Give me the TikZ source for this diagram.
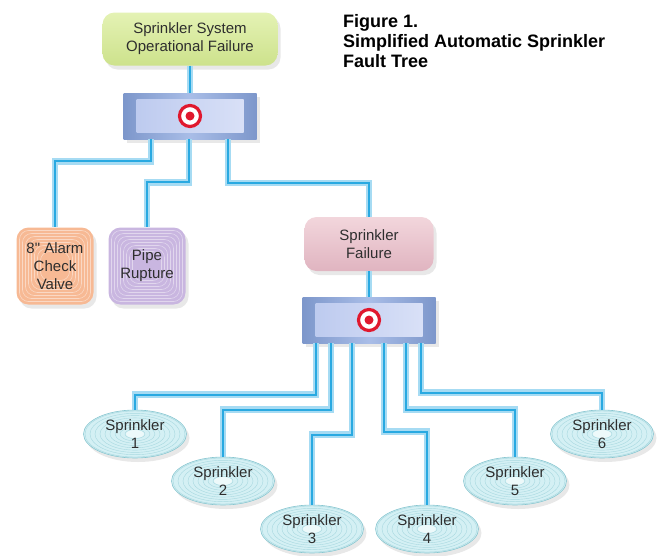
\documentclass[tikz,border=0pt]{standalone}
\usepackage{fontspec}
\setmainfont{Liberation Sans}[Ligatures=TeXOff]
\usetikzlibrary{shapes.geometric,shadows}

\definecolor{wireband}{HTML}{A6DBF3}
\definecolor{wirecore}{HTML}{29A9E1}
\definecolor{textgray}{HTML}{2E2E2E}
\definecolor{topfillA}{HTML}{E4F2B4}
\definecolor{topfillB}{HTML}{CDE28C}
\definecolor{failfillA}{HTML}{F2D6DC}
\definecolor{failfillB}{HTML}{E0B4C0}
\definecolor{alarmfill}{HTML}{F7B994}
\definecolor{pipefill}{HTML}{C9B6E0}
\definecolor{sprkfill}{HTML}{D4F0F4}
\definecolor{sprkring}{HTML}{A8D8E0}
\definecolor{sprkedge}{HTML}{88C6D0}
\definecolor{gateedge}{HTML}{7D97CB}
\definecolor{gatemid}{HTML}{A9BDE7}
\definecolor{innerL}{HTML}{BAC8EE}
\definecolor{innerR}{HTML}{DCE3F8}
\definecolor{targetred}{HTML}{E0182E}

\tikzset{
  wire/.style={draw=wireband, line width=6.5pt, postaction={draw=wirecore, line width=1.8pt}},
  softshadow/.style={drop shadow={shadow xshift=3pt, shadow yshift=-4pt, opacity=0.18}},
  txt/.style={text=textgray, align=center, inner sep=0pt, font=\fontsize{15}{18}\selectfont},
  topbox/.style={txt, rounded corners=12pt, minimum width=175pt, minimum height=53pt,
    top color=topfillA, bottom color=topfillB, softshadow},
  midbox/.style={txt, rounded corners=12pt, minimum width=129pt, minimum height=54pt,
    top color=failfillA, bottom color=failfillB, softshadow},
  ringbox/.style={txt, rounded corners=12pt, minimum width=77pt, minimum height=77pt,
    fill=#1, softshadow,
    path picture={
      \foreach \k in {1,...,8}
        \draw[white, opacity=0.45, line width=0.6pt, rounded corners=9pt]
          ([shift={(\k*3pt,-\k*3pt)}]path picture bounding box.north west) rectangle
          ([shift={(-\k*3pt,\k*3pt)}]path picture bounding box.south east);
    }},
  sprk/.style={txt, ellipse, minimum width=103pt, minimum height=48pt,
    fill=sprkfill, draw=sprkedge, line width=0.6pt, softshadow,
    path picture={
      \foreach \k in {2,...,10}
        \draw[sprkring, line width=0.4pt] (path picture bounding box.center)
          ellipse ({\k*5pt} and {\k*2.3pt});
      \fill[white, opacity=0.6] (path picture bounding box.center) ellipse (9pt and 4pt);
    }},
  gatebox/.style={inner sep=0pt, minimum width=133pt, minimum height=46pt,
    left color=gateedge, right color=gateedge, middle color=gatemid, softshadow,
    path picture={
      \shade[left color=innerL, right color=innerR]
        ([shift={(13pt,-6pt)}]path picture bounding box.north west) rectangle
        ([shift={(-13pt,7pt)}]path picture bounding box.south east);
      \draw[targetred, line width=3.2pt, fill=white] (path picture bounding box.center) circle (10.5pt);
      \fill[targetred] (path picture bounding box.center) circle (4.5pt);
    }}
}

\begin{document}
\begin{tikzpicture}[x=1pt, y=-1pt]
\useasboundingbox (0,0) rectangle (663,555);

\node[topbox] (top) at (190,39) {Sprinkler System\\Operational Failure};
\node[gatebox] (gateA) at (190,116) {};
\node[ringbox=alarmfill] (alarm) at (55,266) {8" Alarm\\Check\\Valve};
\node[ringbox=pipefill] (pipe) at (147,266) {Pipe\\Rupture};
\node[midbox] (sfail) at (369,244) {Sprinkler\\Failure};
\node[gatebox] (gateB) at (369,320) {};

\foreach \n/\x/\y in {1/135/434, 2/223/481, 3/312/529, 4/427/529, 5/515/481, 6/602/434}
  \node[sprk] (s\n) at (\x,\y) {Sprinkler\\\n};

\node[anchor=north west, align=left, inner sep=0pt, font=\bfseries\fontsize{18}{20}\selectfont]
  (title) at (343,14) {Figure 1.\\Simplified Automatic Sprinkler\\Fault Tree};

% upper gate
\draw[wire] (top.south) -- (gateA.north);
\draw[wire] ([xshift=-39pt]gateA.south) |- ([yshift=66pt]alarm.north) -- (alarm.north);
\draw[wire] ([xshift=-1pt]gateA.south) |- ([yshift=45pt]pipe.north) -- (pipe.north);
\draw[wire] ([xshift=38pt]gateA.south) |- ([yshift=34pt]sfail.north) -- (sfail.north);

% lower gate
\draw[wire] (sfail.south) -- (gateB.north);
\draw[wire] ([xshift=-53pt]gateB.south) |- ([yshift=15pt]s1.north) -- (s1.north);
\draw[wire] ([xshift=-38pt]gateB.south) |- ([yshift=47pt]s2.north) -- (s2.north);
\draw[wire] ([xshift=-17pt]gateB.south) |- ([yshift=70pt]s3.north) -- (s3.north);
\draw[wire] ([xshift=15pt]gateB.south) |- ([yshift=73pt]s4.north) -- (s4.north);
\draw[wire] ([xshift=37pt]gateB.south) |- ([yshift=47pt]s5.north) -- (s5.north);
\draw[wire] ([xshift=52pt]gateB.south) |- ([yshift=17pt]s6.north) -- (s6.north);

\end{tikzpicture}
\end{document}
